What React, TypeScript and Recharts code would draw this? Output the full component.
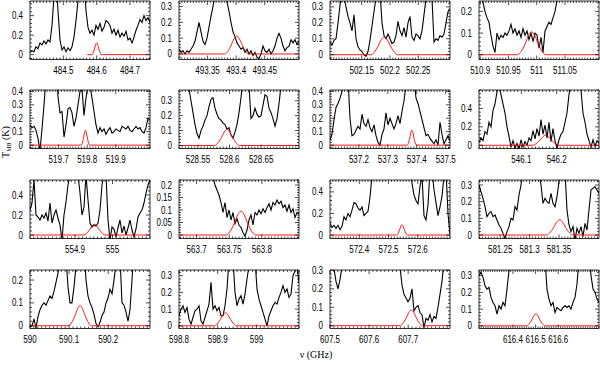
import { LineChart, Line, XAxis, YAxis, ReferenceArea } from "recharts";

// ---- 484 GHz ----
const freq484 = [484.4, 484.76];
const trange484 = [-0.05, 0.55];
const xlab484 = [484.5, 484.6, 484.7];
const ylab484 = [0, 0.2, 0.4];
const tmb484 = [0.02, 0.04, 0.03, 0.08, 0.06, 0.12, 0.1, 0.14, 0.11, 0.15, 0.13, 0.3, 0.6, 0.8, 0.45, 0.15, 0.05, 0.08, 0.03, 0.07, 0.04, 0.08, 0.18, 0.35, 0.55, 0.8, 0.9, 0.8, 0.45, 0.28, 0.22, 0.25, 0.2, 0.3, 0.26, 0.32, 0.24, 0.28, 0.35, 0.33, 0.3, 0.22, 0.26, 0.2, 0.25, 0.18, 0.22, 0.19, 0.24, 0.15, 0.17, 0.12, 0.18, 0.25, 0.3, 0.36, 0.33, 0.4, 0.35, 0.38, 0.33];
const fit484 = [[484.572, 0], [484.5857, 0], [484.589, 0.016], [484.5934, 0.058], [484.5967, 0.1], [484.6, 0.12], [484.6033, 0.1], [484.6066, 0.058], [484.611, 0.016], [484.6143, 0], [484.76, 0]];

// ---- 493 GHz ----
const freq493 = [493.3, 493.51];
const trange493 = [-0.035, 0.335];
const xlab493 = [493.35, 493.4, 493.45];
const ylab493 = [0, 0.1, 0.2, 0.3];
const tmb493 = [0.03, 0.01, 0.02, 0.0, 0.02, 0.01, 0.03, 0.05, 0.08, 0.14, 0.2, 0.14, 0.08, 0.06, 0.1, 0.17, 0.24, 0.3, 0.38, 0.5, 0.55, 0.55, 0.5, 0.42, 0.33, 0.27, 0.2, 0.14, 0.11, 0.07, 0.05, 0.03, 0.04, 0.01, 0.03, 0.0, 0.02, -0.01, 0.01, -0.02, -0.03, 0.0, 0.05, 0.02, 0.01, 0.03, 0.0, 0.02, 0.05, 0.1, 0.13, 0.1, 0.05, 0.02, 0.04, 0.05, 0.09, 0.07, 0.09, 0.06, 0.08];
const fit493 = [[493.3, 0], [493.3802, 0], [493.385, 0.015], [493.3914, 0.056], [493.3962, 0.095], [493.401, 0.114], [493.4058, 0.095], [493.4106, 0.056], [493.417, 0.015], [493.4218, 0], [493.51, 0]];

// ---- 502 GHz ----
const freq502 = [502.094, 502.306];
const trange502 = [-0.03, 0.337];
const xlab502 = [502.15, 502.2, 502.25];
const ylab502 = [0, 0.1, 0.2, 0.3];
const tmb502 = [0.08, 0.06, 0.09, 0.1, 0.2, 0.31, 0.4, 0.36, 0.3, 0.24, 0.2, 0.15, 0.25, 0.1, 0.05, 0.03, 0.02, 0.0, -0.01, 0.02, 0.09, 0.18, 0.27, 0.36, 0.45, 0.4, 0.2, 0.12, 0.1, 0.13, 0.1, 0.07, 0.08, 0.12, 0.21, 0.15, 0.12, 0.17, 0.11, 0.2, 0.24, 0.11, 0.09, 0.13, 0.12, 0.1, 0.15, 0.25, 0.35, 0.42, 0.42, 0.35, 0.08, 0.1, 0.09, 0.12, 0.11, 0.13, 0.2, 0.27, 0.29];
const fit502 = [[502.094, 0], [502.1666, 0], [502.172, 0.015], [502.1792, 0.055], [502.1846, 0.094], [502.19, 0.112], [502.1954, 0.094], [502.2008, 0.055], [502.208, 0.015], [502.2134, 0], [502.306, 0]];

// ---- 511 GHz ----
const freq511 = [510.898, 511.11];
const trange511 = [-0.022, 0.248];
const xlab511 = [510.9, 510.95, 511, 511.05];
const ylab511 = [0, 0.1, 0.2];
const tmb511 = [0.32, 0.28, 0.24, 0.2, 0.17, 0.15, 0.09, 0.04, 0.01, 0.1, 0.07, 0.09, 0.08, 0.1, 0.09, 0.11, 0.14, 0.1, 0.12, 0.09, 0.11, 0.08, 0.12, 0.09, 0.11, 0.07, 0.1, 0.06, 0.1, 0.09, 0.03, 0.08, 0.01, 0.11, 0.13, 0.15, 0.14, 0.17, 0.2, 0.25, 0.3, 0.4, 0.4, 0.4, 0.4, 0.4, 0.4, 0.4, 0.4, 0.4, 0.4, 0.4, 0.4, 0.4, 0.4, 0.4, 0.4, 0.4, 0.4, 0.4, 0.4];
const fit511 = [[510.898, 0], [510.9663, 0], [510.972, 0.014], [510.9796, 0.051], [510.9853, 0.088], [510.991, 0.105], [510.9967, 0.088], [511.0024, 0.051], [511.01, 0.014], [511.0157, 0], [511.11, 0]];

// ---- 520 GHz ----
const freq520 = [519.6, 520.02];
const trange520 = [-0.025, 0.41];
const xlab520 = [519.7, 519.8, 519.9];
const ylab520 = [0, 0.1, 0.2, 0.3, 0.4];
const tmb520 = [0.15, 0.13, 0.14, 0.11, 0.05, -0.04, 0.12, 0.3, 0.5, 0.6, 0.6, 0.6, 0.6, 0.6, 0.36, 0.24, 0.25, 0.06, 0.15, 0.27, 0.28, 0.24, 0.14, 0.2, 0.3, 0.4, 0.42, 0.22, 0.35, 0.45, 0.45, 0.35, 0.25, 0.15, 0.09, 0.13, 0.1, 0.12, 0.08, 0.11, 0.13, 0.09, 0.1, 0.12, 0.11, 0.1, 0.14, 0.13, 0.12, 0.14, 0.11, 0.1, 0.12, 0.14, 0.12, 0.13, 0.1, 0.09, 0.13, 0.2, 0.19];
const fit520 = [[519.6, 0], [519.7797, 0], [519.783, 0.015], [519.7874, 0.055], [519.7907, 0.094], [519.794, 0.112], [519.7973, 0.094], [519.8006, 0.055], [519.805, 0.015], [519.8083, 0], [520.02, 0]];

// ---- 529 GHz ----
const freq529 = [528.52, 528.71];
const trange529 = [-0.02, 0.372];
const xlab529 = [528.55, 528.6, 528.65];
const ylab529 = [0, 0.1, 0.2, 0.3];
const tmb529 = [0.5, 0.5, 0.5, 0.5, 0.45, 0.38, 0.3, 0.22, 0.14, 0.08, 0.05, 0.1, 0.13, 0.17, 0.2, 0.26, 0.31, 0.32, 0.25, 0.21, 0.18, 0.17, 0.15, 0.14, 0.11, 0.12, 0.07, 0.05, 0.09, 0.14, 0.22, 0.32, 0.45, 0.5, 0.5, 0.4, 0.18, 0.2, 0.25, 0.21, 0.19, 0.2, 0.27, 0.34, 0.33, 0.25, 0.22, 0.18, 0.13, 0.18, 0.28, 0.4, 0.5, 0.5, 0.5, 0.5, 0.5, 0.5, 0.5, 0.5, 0.5];
const fit529 = [[528.52, 0], [528.5765, 0], [528.581, 0.015], [528.587, 0.053], [528.5915, 0.09], [528.596, 0.108], [528.6005, 0.09], [528.605, 0.053], [528.611, 0.015], [528.6155, 0], [528.71, 0]];

// ---- 537 GHz ----
const freq537 = [537.1, 537.515];
const trange537 = [-0.025, 0.41];
const xlab537 = [537.2, 537.3, 537.4, 537.5];
const ylab537 = [0, 0.1, 0.2, 0.3, 0.4];
const tmb537 = [0.04, 0.08, 0.19, 0.28, 0.31, 0.35, 0.4, 0.5, 0.5, 0.5, 0.2, 0.07, 0.08, 0.11, 0.14, 0.12, 0.23, 0.16, 0.14, 0.19, 0.13, 0.1, 0.15, 0.07, 0.02, 0.0, 0.08, 0.12, 0.24, 0.15, 0.2, 0.16, 0.12, 0.16, 0.22, 0.16, 0.25, 0.33, 0.45, 0.5, 0.5, 0.5, 0.5, 0.35, 0.31, 0.25, 0.19, 0.13, 0.07, 0.08, 0.05, 0.03, 0.01, 0.04, 0.0, 0.17, 0.08, 0.01, 0.04, 0.07, 0.03];
const fit537 = [[537.1, 0], [537.3674, 0], [537.371, 0.015], [537.3758, 0.055], [537.3794, 0.094], [537.383, 0.112], [537.3866, 0.094], [537.3902, 0.055], [537.395, 0.015], [537.3986, 0], [537.515, 0]];

// ---- 546 GHz ----
const freq546 = [545.98, 546.32];
const trange546 = [-0.035, 0.6];
const xlab546 = [546.1, 546.2];
const ylab546 = [0, 0.2, 0.4];
const tmb546 = [0.03, 0.08, 0.05, 0.15, 0.12, 0.25, 0.2, 0.38, 0.45, 0.58, 0.65, 0.55, 0.45, 0.35, 0.2, 0.1, -0.02, 0.05, -0.03, 0.02, -0.04, 0.06, -0.02, 0.04, 0.0, 0.08, 0.05, 0.16, 0.07, 0.18, 0.1, 0.28, 0.12, 0.22, 0.08, 0.25, 0.04, 0.18, 0.05, -0.03, 0.06, 0.12, 0.15, 0.25, 0.35, 0.55, 0.7, 0.7, 0.7, 0.7, 0.7, 0.6, 0.35, 0.25, 0.12, 0.05, -0.02, 0.06, -0.01, 0.05, 0.02];
const fit546 = [[545.98, 0], [546.1326, 0], [546.141, 0.015], [546.1522, 0.054], [546.1606, 0.092], [546.169, 0.11], [546.1774, 0.092], [546.1858, 0.054], [546.197, 0.015], [546.2054, 0], [546.32, 0]];

// ---- 555 GHz ----
const freq555 = [554.78, 555.1];
const trange555 = [-0.035, 0.55];
const xlab555 = [554.9, 555];
const ylab555 = [0, 0.2, 0.4];
const tmb555 = [0.25, 0.32, 0.55, 0.2, 0.18, 0.15, 0.2, 0.17, 0.22, 0.14, 0.32, 0.12, 0.2, 0.25, 0.17, 0.1, -0.05, 0.2, 0.33, 0.5, 0.6, 0.6, 0.6, 0.6, 0.6, 0.42, 0.2, 0.28, 0.6, 0.35, 0.12, 0.08, 0.1, 0.09, 0.12, 0.25, 0.5, 0.6, 0.6, 0.15, -0.05, 0.08, 0.06, -0.02, 0.07, 0.15, 0.02, 0.09, 0.0, 0.07, 0.15, 0.05, -0.02, 0.06, 0.18, 0.22, 0.25, 0.32, 0.42, 0.5, 0.55];
const fit555 = [[554.78, 0], [554.9234, 0], [554.93, 0.014], [554.9388, 0.052], [554.9454, 0.089], [554.952, 0.107], [554.9586, 0.089], [554.9652, 0.052], [554.974, 0.014], [554.9806, 0], [555.1, 0]];

// ---- 564 GHz ----
const freq564 = [563.673, 563.857];
const trange564 = [-0.014, 0.22];
const xlab564 = [563.7, 563.75, 563.8];
const ylab564 = [0, 0.05, 0.1, 0.15, 0.2];
const tmb564 = [0.3, 0.3, 0.3, 0.3, 0.3, 0.3, 0.3, 0.3, 0.3, 0.3, 0.3, 0.3, 0.3, 0.3, 0.3, 0.3, 0.3, 0.23, 0.2, 0.18, 0.16, 0.13, 0.09, 0.13, 0.07, 0.1, 0.06, 0.09, 0.045, 0.065, 0.04, 0.03, 0.01, -0.005, 0.02, 0.06, 0.08, 0.04, 0.09, 0.08, 0.1, 0.085, 0.105, 0.09, 0.11, 0.125, 0.1, 0.13, 0.12, 0.14, 0.125, 0.135, 0.11, 0.12, 0.095, 0.12, 0.09, 0.105, 0.07, 0.09, 0.085];
const fit564 = [[563.673, 0], [563.7459, 0], [563.751, 0.013], [563.7578, 0.047], [563.7629, 0.08], [563.768, 0.096], [563.7731, 0.08], [563.7782, 0.047], [563.785, 0.013], [563.7901, 0], [563.857, 0]];

// ---- 573 GHz ----
const freq573 = [572.3, 572.71];
const trange573 = [-0.032, 0.51];
const xlab573 = [572.4, 572.5, 572.6];
const ylab573 = [0, 0.2, 0.4];
const tmb573 = [0.11, 0.07, 0.09, 0.06, 0.09, 0.05, 0.08, 0.17, 0.14, 0.2, 0.17, 0.23, 0.3, 0.29, 0.25, 0.23, 0.26, 0.18, 0.2, 0.22, 0.35, 0.55, 0.6, 0.6, 0.6, 0.6, 0.6, 0.6, 0.6, 0.6, 0.6, 0.6, 0.6, 0.6, 0.6, 0.6, 0.6, 0.6, 0.6, 0.6, 0.6, 0.48, 0.37, 0.32, 0.29, 0.45, 0.55, 0.18, 0.14, 0.28, 0.6, 0.6, 0.42, 0.3, 0.18, 0.26, 0.36, 0.55, 0.6, 0.2, 0.0];
const fit573 = [[572.3, 0], [572.5278, 0], [572.532, 0.013], [572.5376, 0.046], [572.5418, 0.079], [572.546, 0.095], [572.5502, 0.079], [572.5544, 0.046], [572.56, 0.013], [572.5642, 0], [572.71, 0]];

// ---- 581 GHz ----
const freq581 = [581.214, 581.418];
const trange581 = [-0.021, 0.33];
const xlab581 = [581.25, 581.3, 581.35];
const ylab581 = [0, 0.1, 0.2, 0.3];
const tmb581 = [0.3, 0.26, 0.22, 0.17, 0.11, 0.13, 0.14, 0.11, 0.12, 0.09, 0.06, 0.04, 0.01, -0.02, 0.02, 0.05, 0.1, 0.09, 0.17, 0.15, 0.24, 0.3, 0.4, 0.45, 0.45, 0.45, 0.45, 0.45, 0.45, 0.45, 0.38, 0.3, 0.19, 0.22, 0.2, 0.19, 0.25, 0.19, 0.17, 0.23, 0.32, 0.45, 0.45, 0.38, 0.15, 0.06, 0.02, 0.05, -0.03, 0.04, 0.01, 0.05, -0.01, 0.07, 0.03, 0.15, 0.27, 0.28, 0.29, 0.27, 0.25];
const fit581 = [[581.214, 0], [581.3289, 0], [581.334, 0.012], [581.3408, 0.045], [581.3459, 0.077], [581.351, 0.092], [581.3561, 0.077], [581.3612, 0.045], [581.368, 0.012], [581.3731, 0], [581.418, 0]];

// ---- 590 GHz ----
const freq590 = [590, 590.307];
const trange590 = [-0.012, 0.244];
const xlab590 = [590, 590.1, 590.2];
const ylab590 = [0, 0.1, 0.2];
const tmb590 = [-0.005, 0.0, 0.03, -0.01, 0.04, 0.07, 0.09, 0.1, 0.09, 0.11, 0.13, 0.12, 0.15, 0.19, 0.23, 0.3, 0.35, 0.35, 0.3, 0.17, 0.1, 0.1, 0.17, 0.26, 0.35, 0.35, 0.35, 0.35, 0.2, 0.13, 0.1, 0.08, 0.05, 0.01, -0.005, 0.015, 0.045, 0.06, 0.1, 0.12, 0.16, 0.14, 0.2, 0.27, 0.35, 0.3, 0.1, 0.09, 0.06, 0.02, 0.07, 0.2, 0.35, 0.35, 0.35, 0.35, 0.35, 0.35, 0.35, 0.35, 0.35];
const fit590 = [[590, 0], [590.0994, 0], [590.106, 0.012], [590.1148, 0.043], [590.1214, 0.073], [590.128, 0.088], [590.1346, 0.073], [590.1412, 0.043], [590.15, 0.012], [590.1566, 0], [590.307, 0]];

// ---- 599 GHz ----
const freq599 = [598.8, 599.11];
const trange599 = [-0.016, 0.334];
const xlab599 = [598.8, 598.9, 599];
const ylab599 = [0, 0.1, 0.2, 0.3];
const tmb599 = [0.06, 0.1, 0.12, 0.08, 0.11, 0.04, 0.01, 0.05, 0.09, 0.1, 0.12, 0.03, 0.01, 0.05, 0.09, 0.13, 0.26, 0.1, 0.12, 0.09, 0.11, 0.06, 0.06, 0.12, 0.22, 0.4, 0.45, 0.4, 0.2, 0.12, 0.16, 0.18, 0.13, 0.19, 0.28, 0.36, 0.45, 0.45, 0.4, 0.22, 0.16, 0.12, 0.08, 0.04, 0.0, 0.06, 0.09, 0.12, 0.14, 0.13, 0.17, 0.2, 0.24, 0.2, 0.22, 0.17, 0.19, 0.3, 0.33, 0.35, 0.26];
const fit599 = [[598.8, 0], [598.8914, 0], [598.898, 0.011], [598.9068, 0.038], [598.9134, 0.065], [598.92, 0.078], [598.9266, 0.065], [598.9332, 0.038], [598.942, 0.011], [598.9486, 0], [599.11, 0]];

// ---- 608 GHz ----
const freq608 = [607.5, 607.807];
const trange608 = [-0.015, 0.302];
const xlab608 = [607.5, 607.6, 607.7];
const ylab608 = [0, 0.1, 0.2, 0.3];
const tmb608 = [0.4, 0.35, 0.31, 0.24, 0.2, 0.25, 0.32, 0.4, 0.4, 0.4, 0.4, 0.4, 0.4, 0.4, 0.4, 0.4, 0.4, 0.4, 0.4, 0.4, 0.4, 0.4, 0.4, 0.4, 0.4, 0.4, 0.4, 0.4, 0.4, 0.4, 0.4, 0.4, 0.4, 0.4, 0.4, 0.32, 0.22, 0.17, 0.15, 0.13, 0.15, 0.2, 0.08, 0.1, 0.11, 0.07, 0.06, -0.01, 0.04, 0.03, 0.06, 0.02, 0.05, 0.04, 0.1, 0.17, 0.24, 0.35, 0.4, 0.4, 0.4];
const fit608 = [[607.5, 0], [607.6794, 0], [607.686, 0.011], [607.6948, 0.041], [607.7014, 0.071], [607.708, 0.085], [607.7146, 0.071], [607.7212, 0.041], [607.73, 0.011], [607.7366, 0], [607.807, 0]];

// ---- 616 GHz ----
const freq616 = [616.25, 616.78];
const trange616 = [-0.016, 0.334];
const xlab616 = [616.4, 616.5, 616.6];
const ylab616 = [0, 0.1, 0.2, 0.3];
const tmb616 = [0.3, 0.32, 0.29, 0.24, 0.22, 0.23, 0.17, 0.14, 0.12, 0.07, 0.12, 0.1, 0.14, 0.12, 0.22, 0.33, 0.45, 0.45, 0.45, 0.45, 0.45, 0.45, 0.45, 0.45, 0.45, 0.45, 0.45, 0.45, 0.45, 0.45, 0.45, 0.45, 0.45, 0.4, 0.22, 0.16, 0.12, 0.14, 0.08, 0.11, 0.1, 0.09, 0.11, 0.12, 0.11, 0.12, 0.1, 0.14, 0.17, 0.25, 0.4, 0.45, 0.45, 0.45, 0.45, 0.45, 0.3, 0.22, 0.2, 0.16, 0.14];
const fit616 = [[616.25, 0], [616.462, 0], [616.471, 0.01], [616.483, 0.035], [616.492, 0.06], [616.501, 0.072], [616.51, 0.06], [616.519, 0.035], [616.531, 0.01], [616.54, 0], [616.78, 0]];

// plot box geometry
const PW = 120;
const PH = 58.5;
const ML = 40;
const MR = 20;
const MT = 5;
const XH = 22;
const COLS = [30, 179, 330, 479];
const ROWS = [0.5, 90, 180, 269.5];
const FONT = "'Liberation Sans', Arial, sans-serif";
const SQUEEZE = 0.8; // tick labels are narrow in the original

const panel = (freq, trange, xlab, ylab, tmb, fit) => ({
  freq,
  trange,
  xlab,
  ylab,
  spec: tmb.map((t, i) => ({ f: freq[0] + (i * (freq[1] - freq[0])) / (tmb.length - 1), t })),
  model: fit.map(([f, t]) => ({ f, t })),
});

const panels = [
  panel(freq484, trange484, xlab484, ylab484, tmb484, fit484),
  panel(freq493, trange493, xlab493, ylab493, tmb493, fit493),
  panel(freq502, trange502, xlab502, ylab502, tmb502, fit502),
  panel(freq511, trange511, xlab511, ylab511, tmb511, fit511),
  panel(freq520, trange520, xlab520, ylab520, tmb520, fit520),
  panel(freq529, trange529, xlab529, ylab529, tmb529, fit529),
  panel(freq537, trange537, xlab537, ylab537, tmb537, fit537),
  panel(freq546, trange546, xlab546, ylab546, tmb546, fit546),
  panel(freq555, trange555, xlab555, ylab555, tmb555, fit555),
  panel(freq564, trange564, xlab564, ylab564, tmb564, fit564),
  panel(freq573, trange573, xlab573, ylab573, tmb573, fit573),
  panel(freq581, trange581, xlab581, ylab581, tmb581, fit581),
  panel(freq590, trange590, xlab590, ylab590, tmb590, fit590),
  panel(freq599, trange599, xlab599, ylab599, tmb599, fit599),
  panel(freq608, trange608, xlab608, ylab608, tmb608, fit608),
  panel(freq616, trange616, xlab616, ylab616, tmb616, fit616),
];

const near = (a: number, b: number) => Math.abs(a - b) < 1e-6;

// major ticks plus minor ones in between (step = major spacing / parts)
function tickList(range: number[], majors: number[], parts: number) {
  const step = +((majors[1] - majors[0]) / parts).toFixed(6);
  const out: number[] = [];
  const k0 = Math.ceil(range[0] / step - 1e-6);
  for (let k = k0; k * step <= range[1] + 1e-9; k++) out.push(+(k * step).toFixed(6));
  return out;
}

function XTick(props: any) {
  const { x, y, payload, majors } = props;
  const lab = majors.find((m: number) => near(m, payload.value));
  const len = lab !== undefined ? 4 : 2;
  return (
    <g>
      <line x1={x} x2={x} y1={y} y2={y - len} stroke="#000" strokeWidth={0.7} />
      <line x1={x} x2={x} y1={y - PH} y2={y - PH + len} stroke="#000" strokeWidth={0.7} />
      {lab !== undefined && (
        <text
          transform={`translate(${x},${y + 14}) scale(${SQUEEZE},1)`}
          textAnchor="middle"
          fontSize={10}
          fontFamily={FONT}
          fill="#000"
        >
          {String(lab)}
        </text>
      )}
    </g>
  );
}

function YTick(props: any) {
  const { x, y, payload, majors } = props;
  const lab = majors.find((m: number) => near(m, payload.value));
  const len = lab !== undefined ? 4 : 2;
  return (
    <g>
      <line x1={x} x2={x + len} y1={y} y2={y} stroke="#000" strokeWidth={0.7} />
      <line x1={x + PW} x2={x + PW - len} y1={y} y2={y} stroke="#000" strokeWidth={0.7} />
      {lab !== undefined && (
        <text
          transform={`translate(${x - 7},${y + 3.5}) scale(${SQUEEZE},1)`}
          textAnchor="end"
          fontSize={10}
          fontFamily={FONT}
          fill="#000"
        >
          {String(lab)}
        </text>
      )}
    </g>
  );
}

function Panel({ p, left, top }: any) {
  return (
    <div style={{ position: "absolute", left, top }}>
      <LineChart width={ML + PW + MR} height={MT + PH + XH} margin={{ top: MT, right: MR, bottom: 0, left: 0 }}>
        <XAxis
          dataKey="f"
          type="number"
          domain={p.freq}
          allowDataOverflow
          ticks={tickList(p.freq, p.xlab, 10)}
          interval={0}
          height={XH}
          tickSize={0}
          tickMargin={0}
          axisLine={false}
          tick={(tp: any) => <XTick {...tp} majors={p.xlab} />}
        />
        <YAxis
          type="number"
          domain={p.trange}
          allowDataOverflow
          ticks={tickList(p.trange, p.ylab, 5)}
          interval={0}
          width={ML}
          tickSize={0}
          tickMargin={0}
          axisLine={false}
          tick={(tp: any) => <YTick {...tp} majors={p.ylab} />}
        />
        <ReferenceArea
          x1={p.freq[0]}
          x2={p.freq[1]}
          y1={p.trange[0]}
          y2={p.trange[1]}
          fill="none"
          fillOpacity={0}
          stroke="#000"
          strokeWidth={0.8}
        />
        <Line data={p.spec} dataKey="t" type="linear" stroke="#000" strokeWidth={1.1} dot={false} isAnimationActive={false} />
        <Line data={p.model} dataKey="t" type="monotone" stroke="#f00" strokeWidth={0.9} dot={false} isAnimationActive={false} />
      </LineChart>
    </div>
  );
}

export default function App() {
  return (
    <div style={{ position: "absolute", left: 0, top: 0, width: 600, height: 365, background: "#fff", overflow: "hidden" }}>
      {panels.map((p, k) => (
        <Panel key={k} p={p} left={COLS[k % 4] - ML} top={ROWS[Math.floor(k / 4)] - MT} />
      ))}
      <div
        style={{
          position: "absolute",
          left: -24,
          top: 136,
          width: 60,
          height: 12,
          lineHeight: "12px",
          textAlign: "center",
          fontSize: 10,
          fontFamily: "'Liberation Serif', serif",
          transform: "rotate(-90deg)",
          whiteSpace: "nowrap",
        }}
      >
        T<sub style={{ fontSize: 6, verticalAlign: "-2px" }}>MB</sub> (K)
      </div>
      <div
        style={{
          position: "absolute",
          left: 276,
          top: 349,
          width: 80,
          lineHeight: "12px",
          textAlign: "center",
          fontSize: 10,
          fontFamily: "'Liberation Serif', serif",
        }}
      >
        ν (GHz)
      </div>
    </div>
  );
}
